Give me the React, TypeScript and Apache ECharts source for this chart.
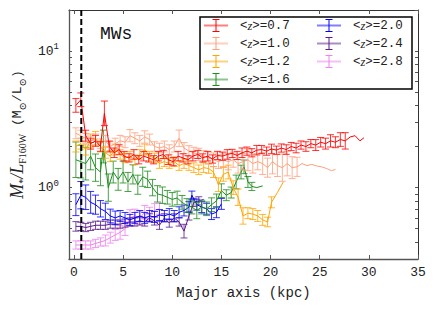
import React, { useEffect, useRef } from "react";
import * as echarts from "echarts";

// ---- data ----
const zLabels = ["0.7", "1.0", "1.2", "1.6", "2.0", "2.4", "2.8"];
const colors = ["#FF0000", "#FF9F7A", "#FFA500", "#1E8C1E", "#0000FF", "#5A1A8C", "#EE82EE"];

const x07 = [0.2,0.7,1.2,1.7,2.2,2.7,3.1,3.6,4.1,4.6,5.1,5.6,6.1,6.6,7.1,7.6,8.1,8.6,9.1,9.6,10.1,10.6,11.1,11.6,12.1,12.6,13.1,13.6,14.1,14.6,15.1,15.6,16.1,16.6,17.1,17.6,18.1,18.6,19.1,19.6,20.1,20.6,21.1,21.6,22.1,22.6,23.1,23.6,24.1,24.6,25.1,25.6,26.1,26.6,27.1,27.6,28.1,28.6,29.1,29.5];
const y07 = [4.0,4.4,2.4,2.1,2.2,2.0,3.5,2.0,1.8,1.9,1.7,1.65,1.75,1.6,1.7,1.65,1.6,1.7,1.75,1.6,1.55,1.7,1.65,1.6,1.7,1.75,1.65,1.7,1.62,1.72,1.7,1.75,1.78,1.72,1.8,1.85,1.8,1.88,1.9,1.85,1.92,1.88,1.95,1.9,2.0,1.95,2.05,2.0,2.1,2.05,2.15,2.1,2.2,2.15,2.25,2.2,2.35,2.4,2.2,2.32];
const e07 = [0.05,0.05,0.04,0.04,0.04,0.035,0.09,0.04,0.035,0.035,0.035,0.03,0.035,0.03,0.035,0.03,0.03,0.035,0.03,0.035,0.03,0.035,0.03,0.03,0.035,0.03,0.03,0.035,0.03,0.03,0.03,0.035,0.03,0.03,0.035,0.03,0.03,0.035,0.03,0.03,0.035,0.03,0.03,0.035,0.03,0.035,0.03,0.035,0.03,0.04,0.035,0.04,0.045,0.04,0.05,0.06,0,0,0,0];

const x10 = [0.2,0.7,1.2,1.7,2.2,2.7,3.2,3.7,4.2,4.7,5.2,5.7,6.2,6.7,7.2,7.7,8.2,8.7,9.2,9.7,10.2,10.7,11.2,11.7,12.2,12.7,13.2,13.7,14.2,14.7,15.2,15.7,16.2,16.7,17.2,17.7,18.2,18.7,19.2,19.7,20.2,20.7,21.2,21.7,22.2,22.7,23.2,23.7,24.2,24.7,25.2,25.7,26.2,26.6];
const y10 = [2.5,2.4,2.3,2.2,2.25,2.1,2.2,2.0,2.1,2.2,2.15,2.4,2.3,2.2,2.35,2.25,2.0,1.95,2.0,1.9,2.0,2.3,1.95,1.85,1.8,1.75,1.7,1.65,1.6,1.55,1.6,1.55,1.6,1.5,1.55,1.6,1.5,1.55,1.5,1.4,1.55,1.45,1.4,1.5,1.4,1.42,1.5,1.45,1.48,1.44,1.42,1.38,1.33,1.36];
const e10 = [0.04,0.04,0.035,0.035,0.04,0.035,0.04,0.035,0.04,0.04,0.04,0.045,0.04,0.04,0.045,0.04,0.035,0.035,0.04,0.035,0.04,0.06,0.04,0.04,0.04,0.045,0.04,0.045,0.05,0.05,0.05,0.06,0.055,0.07,0.06,0.08,0.07,0.06,0.08,0.07,0.09,0.08,0.1,0.09,0.08,0.07,0,0,0,0,0,0,0,0];

const x12 = [0.2,0.7,1.2,1.7,2.2,2.7,3.2,3.7,4.2,4.7,5.2,5.7,6.2,6.7,7.2,7.7,8.2,8.7,9.2,9.7,10.2,10.7,11.2,11.7,12.2,12.7,13.2,13.7,14.2,14.7,15.2,15.7,16.2,16.7,17.2,17.7,18.2,18.7,19.2,19.7,20.1,20.7,21.3];
const y12 = [2.0,2.1,1.9,2.2,2.3,2.0,1.8,1.7,1.9,1.75,1.65,1.7,1.6,1.75,1.9,1.7,1.65,1.5,1.55,1.5,1.55,1.45,1.5,1.45,1.4,1.35,1.4,1.38,1.3,1.05,1.25,1.3,1.0,0.85,0.62,0.65,0.64,0.62,0.58,0.56,0.78,0.92,1.1];
const e12 = [0.04,0.04,0.04,0.05,0.05,0.04,0.04,0.04,0.04,0.035,0.035,0.035,0.035,0.035,0.04,0.035,0.035,0.035,0.035,0.035,0.035,0.035,0.035,0.035,0.035,0.035,0.035,0.035,0.04,0.05,0.05,0.05,0.05,0.06,0.06,0.04,0.04,0.04,0.04,0.035,0.04,0,0];

const x16 = [0.2,0.7,1.2,1.7,2.2,2.7,3.0,3.5,4.0,4.5,5.0,5.5,6.0,6.5,7.0,7.5,8.0,8.5,9.0,9.5,10.0,10.5,11.0,11.5,12.0,12.5,13.0,13.5,14.0,14.5,15.0,15.5,16.0,16.5,17.0,17.3,17.7,18.1,18.6,19.2];
const y16 = [1.6,1.55,1.5,1.7,1.4,1.3,2.0,1.0,1.3,1.15,1.3,1.1,1.25,1.05,1.2,1.15,1.0,0.9,0.88,0.85,0.82,0.84,0.78,0.74,0.72,0.68,0.72,0.7,0.75,0.8,0.95,0.88,0.92,1.1,1.3,1.42,1.1,1.02,1.0,1.03];
const e16 = [0.13,0.12,0.12,0.1,0.1,0.1,0.12,0.1,0.08,0.08,0.08,0.07,0.07,0.07,0.07,0.06,0.06,0.06,0.06,0.05,0.05,0.05,0.05,0.05,0.05,0.06,0.05,0.05,0.05,0.05,0.05,0.04,0.04,0.05,0.05,0.05,0.04,0.03,0,0];

const x20 = [0.2,0.7,1.2,1.7,2.2,2.7,3.2,3.7,4.2,4.7,5.2,5.7,6.2,6.7,7.2,7.7,8.2,8.7,9.2,9.7,10.2,10.7,11.2,11.7,12.0,12.5,13.0,13.5,14.0,14.5,15.0];
const y20 = [0.75,0.88,0.85,0.78,0.75,0.7,0.67,0.62,0.6,0.62,0.6,0.58,0.6,0.62,0.6,0.62,0.61,0.63,0.62,0.64,0.62,0.66,0.68,0.72,0.88,0.75,0.72,0.7,0.64,0.66,0.76];
const e20 = [0.08,0.1,0.09,0.08,0.07,0.06,0.06,0.05,0.05,0.04,0.04,0.04,0.04,0.04,0.04,0.04,0.04,0.04,0.04,0.04,0.04,0.04,0.04,0.04,0.03,0.04,0.04,0.04,0.04,0.04,0.04];

const x24 = [0.2,0.7,1.2,1.7,2.2,2.7,3.2,3.7,4.2,4.7,5.2,5.7,6.2,6.7,7.2,7.7,8.2,8.7,9.2,9.7,10.2,10.7,11.2,11.7,12.2,12.7,13.2];
const y24 = [0.52,0.52,0.51,0.52,0.53,0.53,0.53,0.54,0.54,0.54,0.55,0.56,0.56,0.57,0.56,0.6,0.57,0.53,0.6,0.55,0.6,0.56,0.48,0.62,0.78,0.8,0.82];
const e24 = [0.035,0.03,0.03,0.03,0.03,0.03,0.03,0.03,0.03,0.03,0.03,0.03,0.03,0.03,0.03,0.03,0.03,0.03,0.03,0.03,0.03,0.03,0.05,0.03,0.03,0.03,0];

const x28 = [0.2,0.7,1.2,1.7,2.2,2.7,3.2,3.7,4.2,4.7,5.2,5.7,6.2,6.7,7.2,7.7,8.2,8.7];
const y28 = [0.38,0.38,0.38,0.38,0.39,0.4,0.41,0.43,0.45,0.47,0.5,0.6,0.62,0.6,0.66,0.64,0.68,0.7];
const e28 = [0.03,0.03,0.03,0.03,0.03,0.03,0.04,0.04,0.04,0.05,0.05,0.06,0.05,0.05,0.05,0.05,0.05,0.04];

const xs = [x07, x10, x12, x16, x20, x24, x28];
const ys = [y07, y10, y12, y16, y20, y24, y28];
const es = [e07, e10, e12, e16, e20, e24, e28];

const effRadius = 0.75; // dashed vertical line position (kpc)
const xTicks = [0, 5, 10, 15, 20, 25, 30, 35];
const yMinor = [0.3, 0.4, 0.5, 0.6, 0.7, 0.8, 0.9, 1, 2, 3, 4, 5, 6, 7, 8, 9, 10, 20];
const yMajor = [1, 10];
const Y_MIN = 0.3;
const Y_MAX = 20;
const X_MIN = -0.5;
const X_MAX = 35;

const MONO = "'Liberation Mono', 'DejaVu Sans Mono', monospace";
const SERIF = "'Liberation Serif', 'DejaVu Serif', serif";

function buildOption() {
  const lg = Math.log10;
  const frameColor = "#555";
  const series: any[] = [];
  // draw highest z last so red is on top
  for (let k = zLabels.length - 1; k >= 0; k--) {
    const color = colors[k];
    const x = xs[k], y = ys[k], e = es[k];
    series.push({
      type: "line",
      name: "z" + zLabels[k],
      data: x.map((xi, i) => [xi, lg(y[i])]),
      symbol: "none",
      lineStyle: { color, width: 1 },
      z: 2 + (zLabels.length - k),
      silent: true,
    });
    const errData = x
      .map((xi, i) => [xi, lg(y[i]), lg(y[i]) - e[i], lg(y[i]) + e[i], e[i]])
      .filter((d) => d[4] > 0);
    series.push({
      type: "custom",
      name: "err" + zLabels[k],
      data: errData,
      encode: { x: 0, y: [1, 2, 3] },
      z: 2 + (zLabels.length - k),
      silent: true,
      renderItem: (params: any, api: any) => {
        const xv = api.value(0);
        const p1 = api.coord([xv, api.value(2)]);
        const p2 = api.coord([xv, api.value(3)]);
        const w = 3.5;
        const style = { stroke: color, lineWidth: 1, opacity: 0.8 };
        return {
          type: "group",
          children: [
            { type: "line", shape: { x1: p1[0], y1: p1[1], x2: p2[0], y2: p2[1] }, style },
            { type: "line", shape: { x1: p1[0] - w, y1: p1[1], x2: p1[0] + w, y2: p1[1] }, style },
            { type: "line", shape: { x1: p2[0] - w, y1: p2[1], x2: p2[0] + w, y2: p2[1] }, style },
          ],
        };
      },
    });
  }
  series.push({
    type: "line",
    name: "Re",
    data: [[effRadius, lg(Y_MIN)], [effRadius, lg(Y_MAX)]],
    symbol: "none",
    lineStyle: { color: "#000", width: 2, type: [6, 3] },
    z: 20,
    silent: true,
  });

  const tickStyle = { color: frameColor, width: 1 };
  const lineStyle = { color: frameColor, width: 1.3 };

  // legend drawn with graphic
  const legendChildren: any[] = [
    { type: "rect", shape: { x: 200, y: 17, width: 212, height: 72 }, style: { fill: "#fff", stroke: "#000", lineWidth: 1.5 } },
  ];
  zLabels.forEach((z, k) => {
    const col = k < 4 ? 0 : 1;
    const row = k < 4 ? k : k - 4;
    const x0 = col === 0 ? 204 : 317;
    const yc = 25.5 + row * 18;
    const c = colors[k];
    legendChildren.push(
      { type: "line", shape: { x1: x0, y1: yc, x2: x0 + 24, y2: yc }, style: { stroke: c, lineWidth: 2, opacity: 0.5 } },
      { type: "line", shape: { x1: x0 + 12, y1: yc - 6, x2: x0 + 12, y2: yc + 6 }, style: { stroke: c, lineWidth: 1 } },
      { type: "line", shape: { x1: x0 + 8.5, y1: yc - 6, x2: x0 + 15.5, y2: yc - 6 }, style: { stroke: c, lineWidth: 1 } },
      { type: "line", shape: { x1: x0 + 8.5, y1: yc + 6, x2: x0 + 15.5, y2: yc + 6 }, style: { stroke: c, lineWidth: 1 } },
      {
        type: "text",
        x: x0 + 36,
        y: yc,
        style: {
          text: "<{i|z}>=" + z,
          font: "12.5px " + MONO,
          fill: "#222",
          verticalAlign: "middle",
          rich: { i: { fontStyle: "italic", fontFamily: SERIF, fontSize: 12.5 } },
        },
      }
    );
  });

  return {
    animation: false,
    backgroundColor: "#fff",
    grid: { left: 65, right: 17, top: 10, bottom: 53 },
    xAxis: [
      {
        type: "value",
        min: X_MIN,
        max: X_MAX,
        position: "bottom",
        axisLine: { show: true, onZero: false, lineStyle },
        axisTick: { show: true, inside: true, length: 4, customValues: xTicks, lineStyle: tickStyle },
        axisLabel: { customValues: xTicks, fontFamily: MONO, fontSize: 13, color: "#222", margin: 7 },
        splitLine: { show: false },
        name: "Major axis (kpc)",
        nameLocation: "middle",
        nameGap: 27,
        nameTextStyle: { fontFamily: MONO, fontSize: 14, color: "#222" },
      },
      {
        type: "value",
        min: X_MIN,
        max: X_MAX,
        position: "top",
        axisLine: { show: true, onZero: false, lineStyle: { color: "#333", width: 1 } },
        axisTick: { show: true, inside: true, length: 4, customValues: xTicks, lineStyle: tickStyle },
        axisLabel: { show: false },
        splitLine: { show: false },
      },
    ],
    yAxis: [
      {
        type: "value",
        min: Math.log10(Y_MIN),
        max: Math.log10(Y_MAX),
        position: "left",
        axisLine: { show: true, onZero: false, lineStyle },
        axisTick: { show: true, inside: true, length: 3, customValues: yMinor.map((v) => Math.log10(v)), lineStyle: tickStyle },
        axisLabel: {
          customValues: yMajor.map((v) => Math.log10(v)),
          formatter: (v: number) => "10{s|" + Math.round(v) + "}",
          fontFamily: MONO,
          fontSize: 13,
          color: "#222",
          margin: 10,
          rich: { s: { fontSize: 9, fontFamily: MONO, verticalAlign: "top", padding: [0, 0, 8, 0], color: "#222" } },
        },
        splitLine: { show: false },
        name: "{it|M}{sb|*}{it|/L}{sb|F160W}{n| (M}{sb|⊙}{n|/L}{sb|⊙}{n|)}",
        nameLocation: "middle",
        nameGap: 42,
        nameRotate: 90,
        nameTextStyle: {
          color: "#222",
          rich: {
            it: { fontFamily: SERIF, fontStyle: "italic", fontSize: 18, color: "#222" },
            sb: { fontFamily: SERIF, fontSize: 10, color: "#222", padding: [10, 0, 0, 0] },
            n: { fontFamily: MONO, fontSize: 13, color: "#222" },
          },
        },
      },
      {
        type: "value",
        min: Math.log10(Y_MIN),
        max: Math.log10(Y_MAX),
        position: "right",
        axisLine: { show: true, onZero: false, lineStyle: { color: "#333", width: 1 } },
        axisTick: { show: true, inside: true, length: 3, customValues: yMinor.map((v) => Math.log10(v)), lineStyle: tickStyle },
        axisLabel: { show: false },
        splitLine: { show: false },
      },
    ],
    series,
    graphic: [
      {
        type: "text",
        left: 100,
        top: 25,
        style: { text: "MWs", font: "18px " + MONO, fill: "#111" },
        z: 30,
      },
      { type: "group", children: legendChildren, z: 30 },
    ],
  };
}

export default function App() {
  const ref = useRef<HTMLDivElement>(null);
  useEffect(() => {
    if (!ref.current) return;
    const chart = echarts.init(ref.current, undefined, { renderer: "svg" });
    chart.setOption(buildOption() as any);
    return () => chart.dispose();
  }, []);
  return <div ref={ref} style={{ width: 435, height: 312, position: "absolute", left: 0, top: 0 }} />;
}
